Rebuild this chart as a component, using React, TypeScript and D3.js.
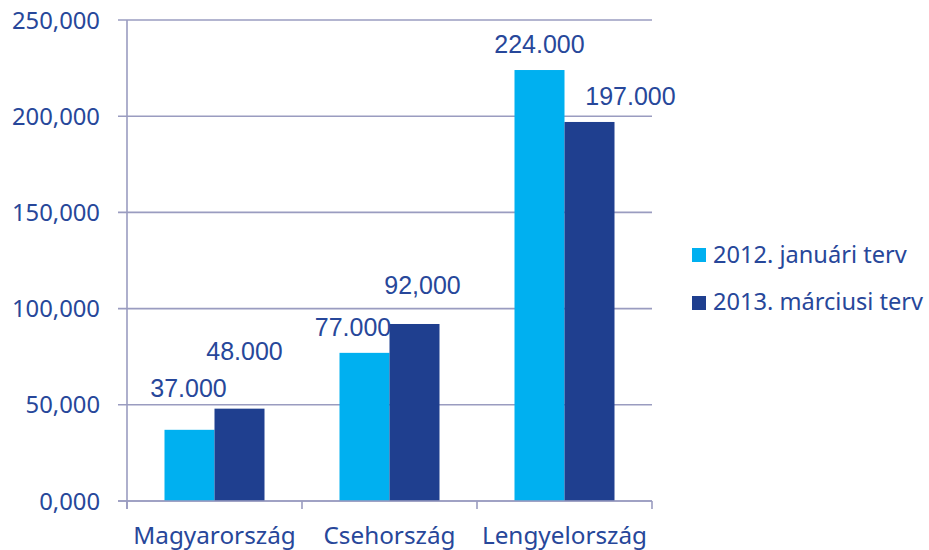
import React from "react";
import * as d3 from "d3";

const categories = ["Magyarország", "Csehország", "Lengyelország"];
const seriesNames = ["2012. januári terv", "2013. márciusi terv"];
const series2012 = [37000, 77000, 224000];
const series2013 = [48000, 92000, 197000];
const labels2012 = ["37.000", "77.000", "224.000"];
const labels2013 = ["48.000", "92,000", "197.000"];
const yTicks = [0, 50000, 100000, 150000, 200000, 250000];
const yTickLabels = ["0,000", "50,000", "100,000", "150,000", "200,000", "250,000"];

// manual label nudges (px) as in the original
const labelOffsets2012 = [[-1, -33], [-11.5, -17], [0, -17]];
const labelOffsets2013 = [[5, -49], [8, -30], [41, -17]];

const colors = ["#00B0F0", "#1F3F8F"];
const textColor = "#27479A";
const gridColor = "#9A9CC0";

export default function App() {
  const W = 929, H = 550;
  const left = 127, right = 652, top = 20, bottom = 501;
  const y = d3.scaleLinear().domain([0, 250000]).range([bottom, top]);
  const x0 = d3.scaleBand<string>().domain(categories).range([left, right]);
  const x1 = d3.scaleBand<string>().domain(seriesNames).range([37.5, 137.5]);
  const values = [series2012, series2013];
  const lbls = [labels2012, labels2013];
  const offs = [labelOffsets2012, labelOffsets2013];
  const axisFont = "'Noto Sans', sans-serif";
  const labelFont = "'Liberation Sans', Arial, sans-serif";

  return (
    <svg width={W} height={H} style={{ position: "absolute", left: 0, top: 0, background: "#fff" }}>
      {yTicks.map((t, i) => (
        <g key={t}>
          <line x1={118} x2={right} y1={y(t)} y2={y(t)} stroke={gridColor} strokeWidth={1.6} />
          <text x={100} y={y(t) + 8.5} textAnchor="end" fill={textColor} fontFamily={axisFont} fontSize={23.8}>
            {yTickLabels[i]}
          </text>
        </g>
      ))}
      <line x1={left} x2={left} y1={top} y2={bottom + 8} stroke={gridColor} strokeWidth={1.6} />
      {[...categories.map((c) => x0(c)!), right].map((xv, i) => (
        <line key={i} x1={xv} x2={xv} y1={bottom} y2={bottom + 8} stroke={gridColor} strokeWidth={1.6} />
      ))}
      {categories.map((c, ci) => (
        <g key={c}>
          {seriesNames.map((s, si) => {
            const v = values[si][ci];
            const bx = x0(c)! + x1(s)!;
            return (
              <rect key={s} x={bx} y={y(v)} width={x1.bandwidth()} height={bottom - y(v)} fill={colors[si]} />
            );
          })}
        </g>
      ))}
      <line x1={118} x2={right} y1={bottom} y2={bottom} stroke={gridColor} strokeWidth={1.6} />
      {categories.map((c, ci) =>
        seriesNames.map((s, si) => {
          const v = values[si][ci];
          const cx = x0(c)! + x1(s)! + x1.bandwidth() / 2;
          const [dx, dy] = offs[si][ci];
          return (
            <text key={c + s} x={cx + dx} y={y(v) + dy} textAnchor="middle" fill={textColor}
              fontFamily={labelFont} fontSize={25}>
              {lbls[si][ci]}
            </text>
          );
        })
      )}
      {categories.map((c) => (
        <text key={c} x={x0(c)! + x0.bandwidth() / 2} y={544} textAnchor="middle" fill={textColor}
          fontFamily={axisFont} fontSize={24.3}>
          {c}
        </text>
      ))}
      {seriesNames.map((s, i) => (
        <g key={s}>
          <rect x={692} y={248 + i * 48} width={14} height={14} fill={colors[i]} />
          <text x={713} y={263 + i * 47} fill={textColor} fontFamily={axisFont} fontSize={23.6}>
            {s}
          </text>
        </g>
      ))}
    </svg>
  );
}
